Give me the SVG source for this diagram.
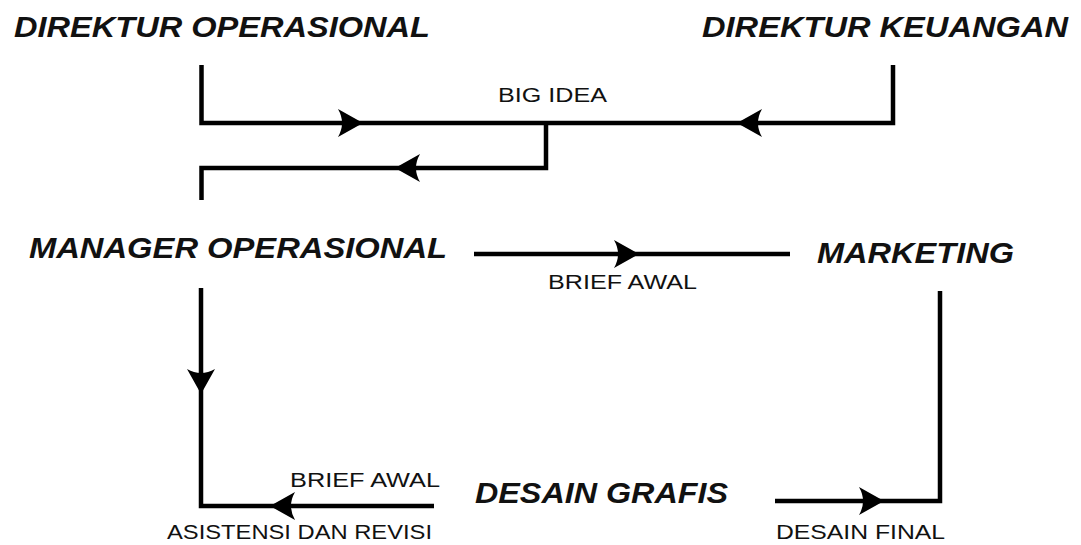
<svg xmlns="http://www.w3.org/2000/svg" xmlns:xlink="http://www.w3.org/1999/xlink" width="1081" height="545" viewBox="0 0 1081 545">
<style>
.node{font-family:"Liberation Sans",Arial,sans-serif;font-weight:bold;font-style:italic;font-size:30px;fill:#111}
.lbl{font-family:"Liberation Sans",Arial,sans-serif;font-size:20px;fill:#111}
.ln{fill:none;stroke:#000;stroke-width:4.5;stroke-linejoin:miter;stroke-linecap:butt}
.ah{fill:#000}
</style>
<defs>
<path id="ah" class="ah" d="M0,0 L-25,-14 Q-17,0 -25,14 Z"/>
</defs>
<rect width="1081" height="545" fill="#fff"/>
<g id="connectors">
<path class="ln" d="M201.5,65 V123 H546"/>
<path class="ln" d="M893,65 V123 H546"/>
<path class="ln" d="M546,123 V168 H201.5 V200"/>
<path class="ln" d="M474,254 H790"/>
<path class="ln" d="M201,288 V506 H434"/>
<path class="ln" d="M940,291 V501 H775"/>
<use xlink:href="#ah" transform="translate(363,123)"/>
<use xlink:href="#ah" transform="translate(737,123) rotate(180)"/>
<use xlink:href="#ah" transform="translate(395,168) rotate(180)"/>
<use xlink:href="#ah" transform="translate(639,254)"/>
<use xlink:href="#ah" transform="translate(201,394) rotate(90)"/>
<use xlink:href="#ah" transform="translate(270,506) rotate(180)"/>
<use xlink:href="#ah" transform="translate(884,501)"/>
<text class="lbl" x="498" y="102" textLength="109" lengthAdjust="spacingAndGlyphs">BIG IDEA</text>
<text class="lbl" x="548" y="289" textLength="149" lengthAdjust="spacingAndGlyphs">BRIEF AWAL</text>
<text class="lbl" x="290" y="487" textLength="150" lengthAdjust="spacingAndGlyphs">BRIEF AWAL</text>
<text class="lbl" x="167" y="539" textLength="265" lengthAdjust="spacingAndGlyphs">ASISTENSI DAN REVISI</text>
<text class="lbl" x="776" y="539" textLength="169" lengthAdjust="spacingAndGlyphs">DESAIN FINAL</text>
</g>
<g id="direktur-operasional"><text class="node" x="14" y="37" textLength="416" lengthAdjust="spacingAndGlyphs">DIREKTUR OPERASIONAL</text></g>
<g id="direktur-keuangan"><text class="node" x="702" y="37" textLength="366" lengthAdjust="spacingAndGlyphs">DIREKTUR KEUANGAN</text></g>
<g id="manager-operasional"><text class="node" x="29" y="258" textLength="418" lengthAdjust="spacingAndGlyphs">MANAGER OPERASIONAL</text></g>
<g id="marketing"><text class="node" x="817" y="263" textLength="197" lengthAdjust="spacingAndGlyphs">MARKETING</text></g>
<g id="desain-grafis"><text class="node" x="475" y="503" textLength="253" lengthAdjust="spacingAndGlyphs">DESAIN GRAFIS</text></g>
</svg>
